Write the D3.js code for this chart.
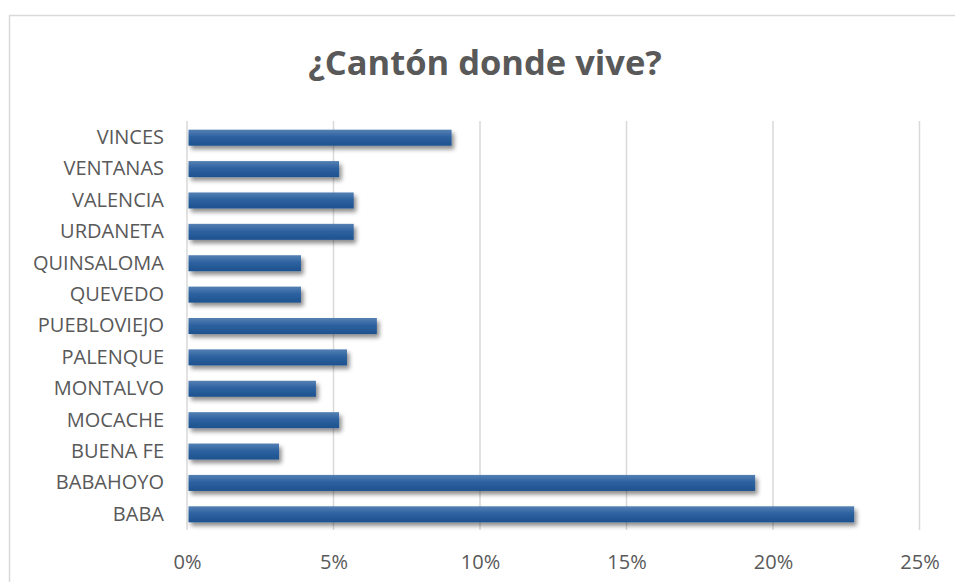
<!DOCTYPE html>
<html><head><meta charset="utf-8">
<script src="https://cdn.jsdelivr.net/npm/d3@7"></script>
<style>body{margin:0;background:#fff;}svg{display:block;}</style>
</head><body>
<svg id="c" width="955" height="582"></svg>
<script>
const categories = ["BABA","BABAHOYO","BUENA FE","MOCACHE","MONTALVO","PALENQUE","PUEBLOVIEJO","QUEVEDO","QUINSALOMA","URDANETA","VALENCIA","VENTANAS","VINCES"];
const values = [0.2277,0.1939,0.0314,0.0519,0.0440,0.0546,0.0648,0.0389,0.0389,0.0569,0.0569,0.0519,0.0903];
const tickValues = [0,0.05,0.10,0.15,0.20,0.25];
const title = "¿Cantón donde vive?";

const svg = d3.select("#c");
const font = "'Open Sans', sans-serif";
const grey = "#595959";

const defs = svg.append("defs");
const g1 = defs.append("linearGradient").attr("id","bg").attr("x1",0).attr("y1",0).attr("x2",0).attr("y2",1);
g1.append("stop").attr("offset","0%").attr("stop-color","#5580b3");
g1.append("stop").attr("offset","45%").attr("stop-color","#2d62a0");
g1.append("stop").attr("offset","100%").attr("stop-color","#1d528e");
const f = defs.append("filter").attr("id","sh").attr("x","-10%").attr("y","-50%").attr("width","130%").attr("height","250%");
f.append("feDropShadow").attr("dx",2.5).attr("dy",3.5).attr("stdDeviation",2.2).attr("flood-color","#000").attr("flood-opacity",0.45);

// frame
svg.append("path").attr("d","M9.5,582 L9.5,15.5 L955,15.5").attr("fill","none").attr("stroke","#d9d9d9").attr("stroke-width",1.5);

const x = d3.scaleLinear().domain([0,0.25]).range([187,919.5]);
const y = d3.scaleBand().domain(categories).range([530,122]).paddingInner(0.49).paddingOuter(0.245);

// gridlines
svg.append("g").selectAll("line").data(tickValues).join("line")
  .attr("x1",d=>x(d)).attr("x2",d=>x(d)).attr("y1",121).attr("y2",530)
  .attr("stroke","#d9d9d9").attr("stroke-width",1.5);

// bars
svg.append("g").selectAll("rect").data(categories).join("rect")
  .attr("x",x(0)+1.5).attr("y",d=>y(d))
  .attr("width",(d,i)=>x(values[i])-x(0)-1.5).attr("height",y.bandwidth())
  .attr("fill","url(#bg)").attr("filter","url(#sh)");

// category axis
const ya = svg.append("g").attr("transform","translate(187,0)").call(d3.axisLeft(y).tickSize(0).tickPadding(23));
ya.select(".domain").remove();
ya.selectAll("text").attr("font-family",font).attr("font-size","20px").attr("fill",grey);

// value axis
const xa = svg.append("g").attr("transform","translate(0,555)").call(d3.axisBottom(x).tickValues(tickValues).tickFormat(d3.format(".0%")).tickSize(0).tickPadding(0));
xa.select(".domain").remove();
xa.selectAll("text").attr("font-family",font).attr("font-size","20px").attr("fill",grey).attr("dy","0.71em");

svg.append("text").attr("x",485).attr("y",75).attr("text-anchor","middle")
  .attr("font-family",font).attr("font-weight",700).attr("font-size","34.5px").attr("fill",grey).text(title);
</script>
</body></html>
